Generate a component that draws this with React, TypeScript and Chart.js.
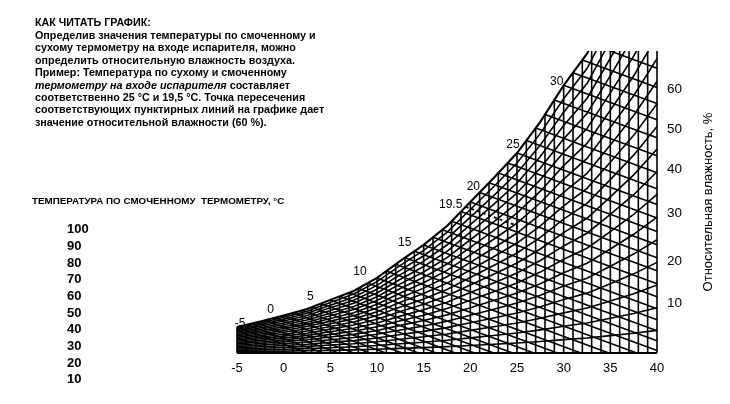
import React, { useEffect, useRef } from "react";
import { Chart, registerables } from "chart.js";

Chart.register(...registerables);

// ---- data ----
// saturation curve: dry-bulb temperature (°C) -> humidity (g/kg, chart units)
const satTemps = [-5, -2.5, 0, 2.5, 5, 7.5, 10, 12.5, 15, 17.5, 20, 22.5, 25, 27.5, 30, 32.5, 35, 37.5, 40];
const satHumidity = [2.5, 3.03, 3.61, 4.23, 5.1, 5.96, 7.21, 8.85, 10.38, 12.2, 14.5, 16.8, 19.2, 22.2, 25.7, 28.75, 33.3, 38.0, 43.5];

const dryBulbGrid = [-5, -4, -3, -2, -1, 0, 1, 2, 3, 4, 5, 6, 7, 8, 9, 10, 11, 12, 13, 14, 15, 16, 17, 18, 19, 20, 21, 22, 23, 24, 25, 26, 27, 28, 29, 30, 31, 32, 33, 34, 35, 36, 37, 38, 39, 40];
const wetBulbGrid = [-5, -4, -3, -2, -1, 0, 1, 2, 3, 4, 5, 6, 7, 8, 9, 10, 11, 12, 13, 14, 15, 16, 17, 18, 19, 20, 21, 22, 23, 24, 25, 26, 27, 28, 29, 30, 31, 32, 33, 34];
const rhGrid = [5, 10, 15, 20, 25, 30, 35, 40, 45, 50, 55, 60, 65, 70, 75, 80, 85, 90, 95];

const wetBulbLabels = ["-5", "0", "5", "10", "15", "19.5", "20", "25", "30"];
const wetBulbLabelTemps = [-5, 0, 5, 10, 15, 19.5, 20, 25, 30];

const rhAxisLabels = ["10", "20", "30", "40", "50", "60"];
const rhAxisHumidity = [4.8, 8.85, 13.4, 17.6, 21.5, 25.3];
const rhAxisTitle = "Относительная влажность, %";

const exampleDryBulb = 25;
const exampleWetBulb = 19.5;
const wetBulbSlope = 0.33; // g/kg per °C
const humidityMax = 29;

const introTitle = "КАК ЧИТАТЬ ГРАФИК:";
const introLines = [
  "Определив значения температуры по смоченному и",
  "сухому термометру на входе испарителя, можно",
  "определить относительную влажность воздуха.",
  "Пример: Температура по сухому и смоченному",
  "",
  "соответственно 25 °С и 19,5 °С. Точка пересечения",
  "соответствующих пунктирных линий на графике дает",
  "значение относительной влажности (60 %).",
];
const introItalic = "термометру на входе испарителя";
const introAfterItalic = " составляет";

const wetBulbHeading = "ТЕМПЕРАТУРА ПО СМОЧЕННОМУ  ТЕРМОМЕТРУ, °С";
const wetBulbColumn = ["100", "90", "80", "70", "60", "50", "40", "30", "20", "10"];

const FONT = '"Liberation Sans", Arial, Helvetica, sans-serif';

function satAt(t: number): number {
  if (t <= satTemps[0]) return satHumidity[0];
  for (let i = 1; i < satTemps.length; i++) {
    if (t <= satTemps[i]) {
      const f = (t - satTemps[i - 1]) / (satTemps[i] - satTemps[i - 1]);
      return satHumidity[i - 1] + f * (satHumidity[i] - satHumidity[i - 1]);
    }
  }
  return satHumidity[satHumidity.length - 1];
}

const labelOffsets: [number, number][] = [
  [3, -3], [-13, -6], [-20, -3], [-17, -6], [-19, -2], [-15, -2], [3, -15], [-4, -8], [-7, -4],
];

function lineDs(data: { x: number; y: number }[], width = 1.6, dash: number[] = []) {
  return {
    type: "line" as const,
    data,
    borderColor: "#000",
    borderWidth: width,
    borderDash: dash,
    pointRadius: 0,
    fill: false,
    tension: 0,
    clip: { left: 2, right: 2, top: 0, bottom: 2 },
    xAxisID: "x",
    yAxisID: "y",
  };
}

function buildDatasets() {
  const ds: any[] = [];
  // dry-bulb verticals
  dryBulbGrid.forEach((t) => {
    ds.push(lineDs([{ x: t, y: 0 }, { x: t, y: Math.min(satAt(t), humidityMax) }]));
  });
  // wet-bulb lines
  wetBulbGrid.forEach((tw) => {
    const s = satAt(tw);
    const tEnd = tw + s / wetBulbSlope;
    const end = tEnd <= 40 ? { x: tEnd, y: 0 } : { x: 40, y: s - wetBulbSlope * (40 - tw) };
    if (end.y >= humidityMax) return;
    ds.push(lineDs([{ x: tw, y: s }, end]));
  });
  // relative humidity curves
  rhGrid.forEach((rh) => {
    ds.push(lineDs(satTemps.map((t, i) => ({ x: t, y: (rh / 100) * satHumidity[i] }))));
  });
  // saturation curve
  ds.push(lineDs(satTemps.map((t, i) => ({ x: t, y: satHumidity[i] })), 2.1));
  // bottom border
  ds.push(lineDs([{ x: -5, y: 0 }, { x: 40, y: 0 }], 2.1));
  // example dashed lines
  const sw = satAt(exampleWetBulb);
  const yCross = sw - wetBulbSlope * (exampleDryBulb - exampleWetBulb);
  ds.push(lineDs([{ x: exampleWetBulb, y: sw }, { x: exampleDryBulb, y: yCross }], 1.8, [3, 3]));
  ds.push(lineDs([{ x: exampleDryBulb, y: yCross }, { x: exampleDryBulb, y: 0 }], 1.8, [3, 3]));
  return ds;
}

const annotPlugin = {
  id: "psychroAnnot",
  afterDatasetsDraw(chart: any) {
    const { ctx, scales, chartArea } = chart;
    const x = scales.x;
    const y = scales.y;
    ctx.save();
    ctx.fillStyle = "#000";
    ctx.font = `12px ${FONT}`;
    ctx.textAlign = "center";
    ctx.textBaseline = "middle";
    wetBulbLabelTemps.forEach((t, i) => {
      const px = x.getPixelForValue(t);
      const py = y.getPixelForValue(Math.min(satAt(t), humidityMax));
      const [dx, dy] = labelOffsets[i];
      ctx.fillText(wetBulbLabels[i], px + dx, py + dy);
    });
    ctx.translate(chartArea.right + 51, (chartArea.top + chartArea.bottom) / 2);
    ctx.rotate(-Math.PI / 2);
    ctx.font = `13px ${FONT}`;
    ctx.fillText(rhAxisTitle, 0, 0);
    ctx.restore();
  },
};

export default function App() {
  const ref = useRef<HTMLCanvasElement | null>(null);

  useEffect(() => {
    if (!ref.current) return;
    const chart = new Chart(ref.current, {
      type: "line",
      data: { datasets: buildDatasets() },
      options: {
        animation: false,
        responsive: false,
        maintainAspectRatio: false,
        events: [],
        layout: { padding: { left: 237, top: 51, right: 0, bottom: 0 } },
        plugins: {
          legend: { display: false },
          tooltip: { enabled: false },
          title: { display: false },
        },
        scales: {
          x: {
            type: "linear",
            position: "bottom",
            min: -5,
            max: 40,
            grid: { display: false, drawTicks: false },
            border: { display: false },
            ticks: {
              stepSize: 5,
              padding: 8,
              maxRotation: 0,
              autoSkip: false,
              color: "#000",
              font: { family: FONT, size: 13 },
            },
            afterFit: (s: any) => {
              s.height = 51;
            },
          },
          y: { type: "linear", min: 0, max: humidityMax, display: false },
          y2: {
            type: "linear",
            position: "right",
            min: 0,
            max: humidityMax,
            grid: { display: false, drawTicks: false },
            border: { display: false },
            afterBuildTicks: (s: any) => {
              s.ticks = rhAxisHumidity.map((v) => ({ value: v }));
            },
            ticks: {
              padding: 10,
              color: "#000",
              font: { family: FONT, size: 13.5 },
              callback: (_v: any, i: number) => rhAxisLabels[i],
            },
            afterFit: (s: any) => {
              s.width = 73;
            },
          },
        },
      } as any,
      plugins: [annotPlugin],
    });
    return () => chart.destroy();
  }, []);

  const lineH = 12.45;
  const firstCenter = 22.5;
  return (
    <div
      style={{
        position: "absolute",
        left: 0,
        top: 0,
        width: 730,
        height: 404,
        background: "#fff",
        color: "#000",
        fontFamily: FONT,
        overflow: "hidden",
      }}
    >
      <canvas ref={ref} width={730} height={404} style={{ position: "absolute", left: 0, top: 0, width: 730, height: 404 }} />
      <div
        style={{
          position: "absolute",
          left: 35,
          top: firstCenter - lineH / 2,
          fontSize: 10.7,
          fontWeight: "bold",
          lineHeight: `${lineH}px`,
          whiteSpace: "nowrap",
        }}
      >
        {introTitle}
      </div>
      {introLines.map((ln, i) => (
        <div
          key={i}
          style={{
            position: "absolute",
            left: 35,
            top: firstCenter + (i + 1) * lineH - lineH / 2,
            fontSize: 10.75,
            fontWeight: "bold",
            lineHeight: `${lineH}px`,
            whiteSpace: "pre",
          }}
        >
          {i === 4 ? (
            <>
              <span style={{ fontStyle: "italic" }}>{introItalic}</span>
              {introAfterItalic}
            </>
          ) : (
            ln
          )}
        </div>
      ))}
      <div
        style={{
          position: "absolute",
          left: 32,
          top: 200.7 - 7,
          fontSize: 9.8,
          fontWeight: "bold",
          lineHeight: "14px",
          whiteSpace: "pre",
        }}
      >
        {wetBulbHeading}
      </div>
      {wetBulbColumn.map((v, i) => (
        <div
          key={v}
          style={{
            position: "absolute",
            left: 67,
            top: 229.3 + i * 16.67 - 8,
            fontSize: 13,
            fontWeight: "bold",
            lineHeight: "16px",
          }}
        >
          {v}
        </div>
      ))}
    </div>
  );
}
